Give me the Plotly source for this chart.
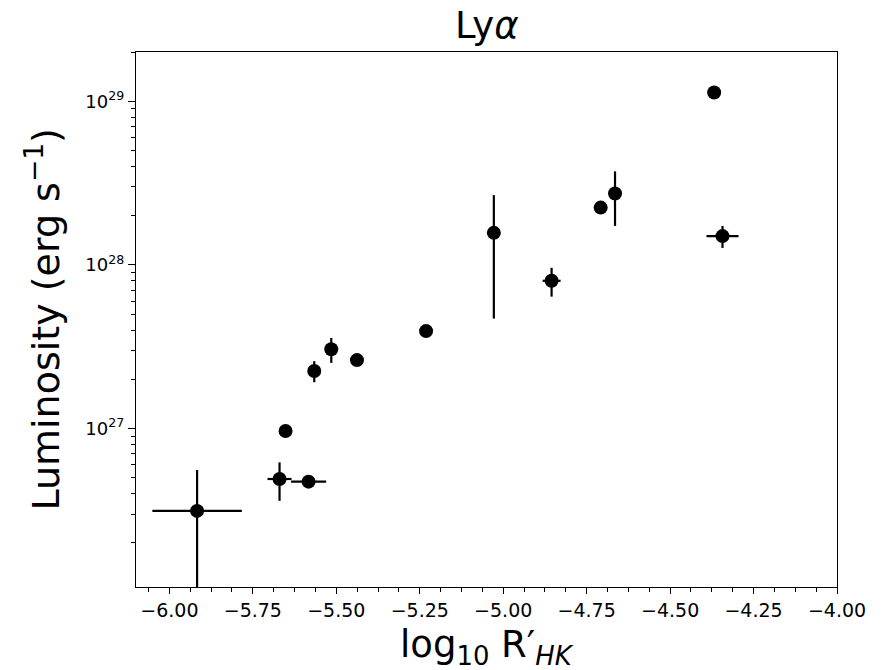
import plotly.graph_objects as go

# Data
log_rhk = [-5.917, -5.670, -5.583, -5.652, -5.566, -5.515, -5.438, -5.231,
           -5.028, -4.855, -4.708, -4.665, -4.343, -4.368]
lum = [3.14e26, 4.92e26, 4.74e26, 9.67e26, 2.25e27, 3.05e27, 2.62e27, 3.94e27,
       1.57e28, 8.0e27, 2.24e28, 2.73e28, 1.50e28, 1.13e29]
log_rhk_err = [0.134, 0.036, 0.0525, 0.0, 0.0, 0.0, 0.0, 0.0, 0.0, 0.027, 0.0, 0.0, 0.048, 0.0]
lum_err = [2.44e26, 1.3e26, 0.0, 0.0, 0.33e27, 0.53e27, 0.0, 0.0, 1.1e28, 1.6e27, 0.0, 1.0e28, 0.23e28, 0.0]

x_ticks = [-6.0, -5.75, -5.5, -5.25, -5.0, -4.75, -4.5, -4.25, -4.0]
y_ticks = [1e27, 1e28, 1e29]
y_ticktext = ["10<sup>27</sup>", "10<sup>28</sup>", "10<sup>29</sup>"]

x_minor = [v for v in [-6.0 + 0.0625 * k for k in range(-1, 33)] if -6.1 <= v <= -4.0]
y_minor = [float(m) * (10.0 ** e) for e in range(26, 30) for m in range(2, 10)]

FONT = "DejaVu Sans"

fig = go.Figure()
fig.add_trace(go.Scatter(
    x=log_rhk, y=lum, mode="markers",
    marker=dict(color="black", size=14),
    error_x=dict(type="data", array=log_rhk_err, color="black", thickness=2.2, width=0),
    error_y=dict(type="data", array=lum_err, color="black", thickness=2.2, width=0),
    showlegend=False,
))

fig.update_layout(
    width=894, height=670,
    margin=dict(l=136, r=57, t=52, b=83, autoexpand=False),
    paper_bgcolor="white", plot_bgcolor="white",
    font=dict(family=FONT, color="black"),
    title=dict(text="Ly<i>α</i>", x=0.5446, xanchor="center", y=0.962, yanchor="middle",
               font=dict(size=37, family=FONT)),
    xaxis=dict(
        range=[-6.1, -4.0], tickmode="array", tickvals=x_ticks, tickformat=".2f",
        ticks="outside", ticklen=6, tickwidth=1.2, tickcolor="black",
        showline=True, linecolor="black", linewidth=1.3, mirror=True,
        showgrid=False, zeroline=False, automargin=False,
        tickfont=dict(size=19, family=FONT),
        minor=dict(tickmode="array", tickvals=x_minor, ticks="outside", ticklen=3.5,
                   tickwidth=1, tickcolor="black", showgrid=False),
    ),
    yaxis=dict(
        type="log", range=[26.032, 29.301], tickmode="array", tickvals=y_ticks,
        ticktext=y_ticktext,
        ticks="outside", ticklen=7, tickwidth=1.2, tickcolor="black",
        showline=True, linecolor="black", linewidth=1.3, mirror=True,
        showgrid=False, zeroline=False, automargin=False,
        tickfont=dict(size=18, family=FONT),
        minor=dict(tickmode="array", tickvals=y_minor, ticks="outside", ticklen=4,
                   tickwidth=1, tickcolor="black", showgrid=False),
    ),
    annotations=[
        dict(text="log<sub>10</sub> R′<sub><i>HK</i></sub>", xref="paper", yref="paper",
             x=0.5, y=-0.112, xanchor="center", yanchor="middle", showarrow=False,
             font=dict(size=37, family=FONT, color="black")),
        dict(text="Luminosity (erg s<sup>−1</sup>)", xref="paper", yref="paper",
             x=-0.134, y=0.5, xanchor="center", yanchor="middle", textangle=-90,
             showarrow=False, font=dict(size=38, family=FONT, color="black")),
    ],
)

fig.write_html("out.html")
